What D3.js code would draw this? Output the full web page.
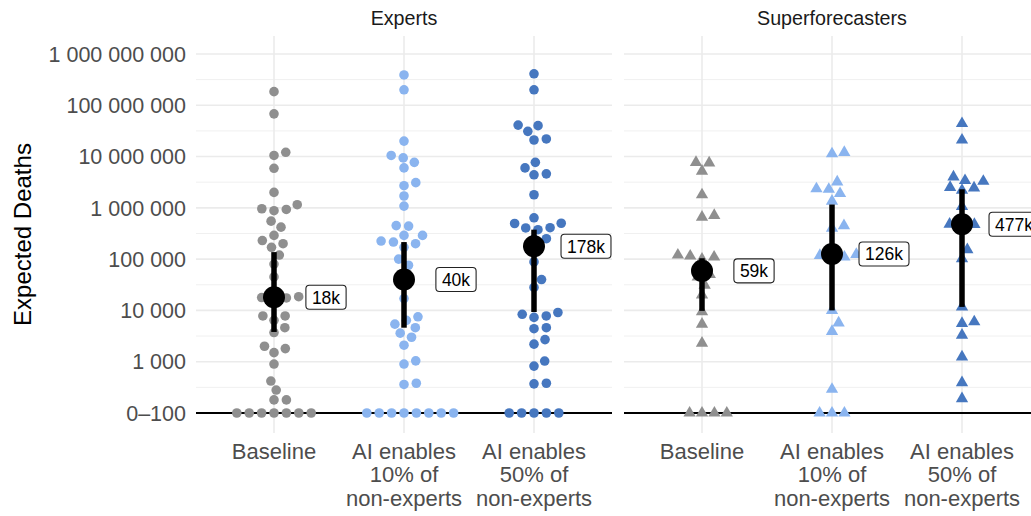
<!DOCTYPE html>
<html>
<head>
<meta charset="utf-8">
<script src="https://cdn.jsdelivr.net/npm/d3@7"></script>
<style>
  body { margin: 0; background: #fff; }
  svg { display: block; font-family: "Liberation Sans", Arial, Helvetica, sans-serif; }
</style>
</head>
<body>
<svg id="chart" width="1031" height="516"></svg>
<script>
// ---- data ----------------------------------------------------------------
const panels = ["Experts", "Superforecasters"];
const categories = ["Baseline", "AI enables 10% of non-experts", "AI enables 50% of non-experts"];
const categoryLines = [["Baseline"], ["AI enables", "10% of", "non-experts"], ["AI enables", "50% of", "non-experts"]];
const categoryColors = ["#8f8f8f", "#8ab4ef", "#4677bf"];
const yTicks = [1e2, 1e3, 1e4, 1e5, 1e6, 1e7, 1e8, 1e9];

// individual forecasts (expected deaths); 100 stands for the "0–100" bin
const expertsBaseline = [184000000, 68000000, 12100000, 10500000, 5900000, 2000000, 1150000, 960000,
  930000, 880000, 550000, 420000, 290000, 230000, 200000, 170000, 120000, 80000, 45000,
  18500, 17800, 17500, 17000, 7800, 7800, 6400, 4600, 3700, 2000, 1800, 1500, 900, 420, 280,
  180, 180, 100, 100, 100, 100, 100, 100, 100];
const expertsAI10 = [390000000, 200000000, 20000000, 10500000, 9400000, 7700000, 6000000, 3100000,
  2700000, 1700000, 1080000, 450000, 440000, 290000, 290000, 225000, 215000, 200000, 170000,
  100000, 76000, 50000, 30000, 17000, 7500, 6400, 5400, 4600, 3600, 3000, 2100, 1040, 900,
  380, 360, 100, 100, 100, 100, 100, 100, 100, 100];
const expertsAI50 = [410000000, 200000000, 41000000, 40000000, 31000000, 22000000, 21000000, 7700000,
  6000000, 4600000, 4400000, 1800000, 640000, 500000, 495000, 410000, 405000, 375000, 250000,
  245000, 140000, 88000, 40000, 28000, 9100, 8400, 7800, 7300, 4600, 4400, 2700, 2200, 1030,
  820, 380, 370, 100, 100, 100, 100, 100];
const superBaseline = [7700000, 7500000, 5200000, 1800000, 710000, 660000, 120000, 115000, 110000,
  100000, 50000, 45000, 31000, 20000, 9400, 5400, 2300, 100, 100, 100, 100];
const superAI10 = [12000000, 11300000, 3200000, 2350000, 2300000, 1900000, 1350000, 450000, 400000,
  124000, 118000, 110000, 107000, 10000, 5700, 3900, 290, 100, 100, 100];
const superAI50 = [44000000, 21000000, 4000000, 3400000, 3300000, 2500000, 2450000, 2200000, 1060000,
  480000, 475000, 470000, 153000, 102000, 11700, 6000, 5600, 3300, 1240, 390, 190];

const expertsMedian = [18000, 40000, 178000];
const expertsLower = [3800, 4600, 9300];
const expertsUpper = [137000, 215000, 375000];
const superMedian = [59000, 126000, 477000];
const superLower = [9800, 10000, 11700];
const superUpper = [104000, 1160000, 2300000];

const panelData = [
  { title: panels[0], shape: "circle", groups: [expertsBaseline, expertsAI10, expertsAI50],
    median: expertsMedian, lower: expertsLower, upper: expertsUpper },
  { title: panels[1], shape: "triangle", groups: [superBaseline, superAI10, superAI50],
    median: superMedian, lower: superLower, upper: superUpper }
];

// ---- layout --------------------------------------------------------------
const svg = d3.select("#chart");
const panelRanges = [[196, 612], [624, 1040]];
const y = d3.scaleLog().domain([Math.pow(10, 1.61), Math.pow(10, 9.35)]).range([433, 36]);
const [yBottom, yTop] = y.range();
const minorTicks = d3.range(2.5, 9, 1).map(e => Math.pow(10, e));

const tickLabel = v => v === 100 ? "0–100" : d3.format(",")(v).replace(/,/g, " ");
const kLabel = v => Math.round(v / 1000) + "k";

// beeswarm: place points in ascending order, each at the smallest offset
// from the category centre that keeps it clear of the points already placed
function swarm(values, dx, dy) {
  const pts = values.map((v, i) => ({ v, i, y: y(v) }));
  const order = pts.slice().sort((a, b) => a.v - b.v || a.i - b.i);
  const placed = [];
  for (const p of order) {
    const cands = [0];
    for (const q of placed) {
      const t = (p.y - q.y) / dy;
      if (Math.abs(t) < 1) {
        const off = dx * Math.sqrt(1 - t * t);
        cands.push(q.x + off, q.x - off);
      }
    }
    let best = null;
    for (const c of cands) {
      if (best !== null && Math.abs(c) >= Math.abs(best) - 1e-9) continue;
      const ok = placed.every(q => {
        const ex = (c - q.x) / dx, ey = (p.y - q.y) / dy;
        return ex * ex + ey * ey >= 0.998;
      });
      if (ok) best = c;
    }
    p.x = best;
    placed.push(p);
  }
  return pts;
}

const triR = 7.1;
const trianglePath = `M0,${-triR}L${triR * 0.866},${triR / 2}L${-triR * 0.866},${triR / 2}Z`;

// y axis tick labels
svg.append("g").selectAll("text").data(yTicks).join("text")
  .attr("x", 186).attr("y", d => y(d)).attr("dy", "0.36em")
  .attr("text-anchor", "end").attr("fill", "#4d4d4d").attr("font-size", 21.5)
  .text(tickLabel);

// y axis title
svg.append("text")
  .attr("transform", `translate(22,${(yTop + yBottom) / 2}) rotate(-90)`)
  .attr("dy", "0.36em").attr("text-anchor", "middle")
  .attr("font-size", 24).attr("fill", "#000")
  .text("Expected Deaths");

panelData.forEach((pd, pi) => {
  const [x0, x1] = panelRanges[pi];
  const x = d3.scalePoint().domain(categories).range([x0, x1]).padding(0.6);
  const g = svg.append("g");

  // grid
  g.append("g").selectAll("line").data(minorTicks).join("line")
    .attr("x1", x0).attr("x2", x1).attr("y1", d => y(d)).attr("y2", d => y(d))
    .attr("stroke", "#f0f0f0").attr("stroke-width", 1);
  g.append("g").selectAll("line").data(yTicks).join("line")
    .attr("x1", x0).attr("x2", x1).attr("y1", d => y(d)).attr("y2", d => y(d))
    .attr("stroke", "#ebebeb").attr("stroke-width", 1.6);
  g.append("g").selectAll("line").data(categories).join("line")
    .attr("x1", d => x(d)).attr("x2", d => x(d)).attr("y1", yTop).attr("y2", yBottom)
    .attr("stroke", "#ebebeb").attr("stroke-width", 1.6);

  // reference line at the 0–100 bin
  g.append("line")
    .attr("x1", x0).attr("x2", x1).attr("y1", y(100)).attr("y2", y(100))
    .attr("stroke", "#000").attr("stroke-width", 1.8);

  // facet title
  g.append("text")
    .attr("x", (x0 + x1) / 2).attr("y", 25).attr("text-anchor", "middle")
    .attr("font-size", 19.7).attr("fill", "#1a1a1a").text(pd.title);

  // category labels
  categories.forEach((c, ci) => {
    const t = g.append("text").attr("text-anchor", "middle")
      .attr("font-size", 22).attr("fill", "#4d4d4d");
    categoryLines[ci].forEach((line, li) => {
      t.append("tspan").attr("x", x(c)).attr("y", 459 + li * 23.3).text(line);
    });
  });

  // individual forecasts
  pd.groups.forEach((vals, ci) => {
    const cx = x(categories[ci]);
    const pts = swarm(vals, 12.4, 10);
    const layer = g.append("g").attr("fill", categoryColors[ci]);
    if (pd.shape === "circle") {
      layer.selectAll("circle").data(pts).join("circle")
        .attr("cx", d => cx + d.x).attr("cy", d => d.y).attr("r", 4.8);
    } else {
      layer.selectAll("path").data(pts).join("path")
        .attr("d", trianglePath)
        .attr("transform", d => `translate(${cx + d.x},${d.y})`);
    }
  });

  // medians with intervals
  categories.forEach((c, ci) => {
    const cx = x(c);
    g.append("line")
      .attr("x1", cx).attr("x2", cx)
      .attr("y1", y(pd.lower[ci])).attr("y2", y(pd.upper[ci]))
      .attr("stroke", "#000").attr("stroke-width", 5.5);
    g.append("circle").attr("cx", cx).attr("cy", y(pd.median[ci])).attr("r", 11).attr("fill", "#000");
  });

  // median labels, centred a fixed distance to the right of each median
  categories.forEach((c, ci) => {
    const cx = x(c), cy = y(pd.median[ci]);
    const lx = cx + 52;
    const lg = g.append("g");
    const rect = lg.append("rect");
    const txt = lg.append("text")
      .attr("x", lx).attr("y", cy).attr("dy", "0.36em").attr("text-anchor", "middle")
      .attr("font-size", 17.5).attr("fill", "#000")
      .text(kLabel(pd.median[ci]));
    const w = txt.node().getComputedTextLength() + 12;
    rect.attr("x", lx - w / 2).attr("y", cy - 12).attr("width", w).attr("height", 24)
      .attr("rx", 3.5).attr("fill", "#fff").attr("stroke", "#222").attr("stroke-width", 1.1);
  });
});
</script>
</body>
</html>
